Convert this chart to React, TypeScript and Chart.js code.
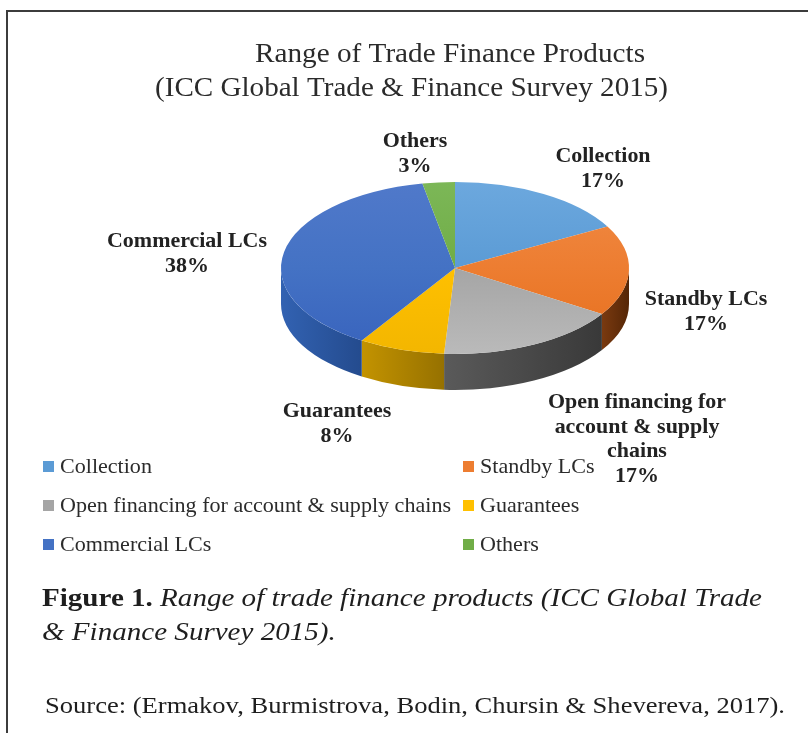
import React, { useEffect, useRef } from "react";
import { Chart, registerables } from "chart.js";

Chart.register(...registerables);

// ---- data ----
const categories = [
  "Collection",
  "Standby LCs",
  "Open financing for account & supply chains",
  "Guarantees",
  "Commercial LCs",
  "Others",
];
const shares = [17, 17, 17, 8, 38, 3];
const dataLabelLines = [
  ["Collection"],
  ["Standby LCs"],
  ["Open financing for", "account & supply", "chains"],
  ["Guarantees"],
  ["Commercial LCs"],
  ["Others"],
];
const titleLines = ["Range of Trade Finance Products", "(ICC Global Trade & Finance Survey 2015)"];
const captionBold = "Figure 1.";
const captionItalic1 = " Range of trade finance products (ICC Global Trade";
const captionItalic2 = "& Finance Survey 2015).";
const sourceText = "Source: (Ermakov, Burmistrova, Bodin, Chursin & Shevereva, 2017).";

// ---- styles / layout ----
const topColors = ["#5b9bd5", "#ed7d31", "#a5a5a5", "#ffc000", "#4472c4", "#70ad47"];
const topLight = ["#6ca8de", "#f08b46", "#a2a2a2", "#ffc91e", "#5079ca", "#7cb757"];
const topDeep = ["#4d8fd0", "#e66f1d", "#bababa", "#f3b600", "#3863bd", "#65a03c"];
const sideLight = ["#4a80b8", "#7a3a10", "#5a5a5a", "#c39300", "#3262b2", "#4d7a30"];
const sideDark = ["#33618f", "#552606", "#393939", "#967100", "#244b8e", "#3d6126"];
const labelAnchors: [number, number][] = [
  [603, 162],
  [706, 305],
  [637, 408],
  [337, 417],
  [187, 247],
  [415, 147],
];
const TILT = 0.494;
const DEPTH = 36;
const SERIF = '"Liberation Serif", "Times New Roman", serif';
const TEXT = "#222222";

function fit(ctx: CanvasRenderingContext2D, text: string, x: number, y: number, sx: number, align: CanvasTextAlign) {
  ctx.save();
  ctx.translate(x, y);
  ctx.scale(sx, 1);
  ctx.textAlign = align;
  ctx.textBaseline = "alphabetic";
  ctx.fillText(text, 0, 0);
  ctx.restore();
}

const pie3d = {
  id: "pie3d",
  beforeDatasetsDraw(chart: any) {
    const ctx: CanvasRenderingContext2D = chart.ctx;
    const meta = chart.getDatasetMeta(0);
    ctx.save();
    meta.data.forEach((arc: any, i: number) => {
      const p = arc.getProps(["startAngle", "endAngle", "x", "y", "outerRadius"], true);
      const a1 = Math.max(p.startAngle, 0);
      const a2 = Math.min(p.endAngle, Math.PI);
      if (a2 <= a1) return;
      const rx = p.outerRadius;
      const ry = p.outerRadius * TILT;
      const x1 = p.x + rx * Math.cos(a2);
      const x2 = p.x + rx * Math.cos(a1);
      const g = ctx.createLinearGradient(Math.min(x1, x2), 0, Math.max(x1, x2), 0);
      g.addColorStop(0, sideLight[i]);
      g.addColorStop(1, sideDark[i]);
      ctx.beginPath();
      ctx.ellipse(p.x, p.y, rx, ry, 0, a1, a2, false);
      ctx.ellipse(p.x, p.y + DEPTH, rx, ry, 0, a2, a1, true);
      ctx.closePath();
      ctx.fillStyle = g;
      ctx.fill();
    });
    ctx.restore();
    const c = meta.data[0];
    ctx.save();
    ctx.translate(c.x, c.y);
    ctx.scale(1, TILT);
    ctx.translate(-c.x, -c.y);
  },
  afterDatasetsDraw(chart: any) {
    chart.ctx.restore();
  },
  afterDraw(chart: any) {
    const ctx: CanvasRenderingContext2D = chart.ctx;
    ctx.save();
    // title
    ctx.fillStyle = "#2b2b2b";
    ctx.font = `27px ${SERIF}`;
    fit(ctx, titleLines[0], 450, 62, 390 / ctx.measureText(titleLines[0]).width, "center");
    ctx.font = `28px ${SERIF}`;
    fit(ctx, titleLines[1], 411.5, 96, 513 / ctx.measureText(titleLines[1]).width, "center");

    // data labels
    ctx.fillStyle = TEXT;
    ctx.font = `bold 21px ${SERIF}`;
    const ls = 160 / ctx.measureText("Commercial LCs").width;
    dataLabelLines.forEach((lines, i) => {
      const [x, y] = labelAnchors[i];
      const all = [...lines, `${shares[i]}%`];
      all.forEach((t, j) => fit(ctx, t, x, y + j * 24.7, ls, "center"));
    });

    // legend
    ctx.font = `21px ${SERIF}`;
    const gs = 391 / ctx.measureText(categories[2]).width;
    categories.forEach((name, i) => {
      const col = i % 2;
      const row = Math.floor(i / 2);
      const mx = col === 0 ? 43 : 463;
      const by = 473 + row * 39;
      ctx.fillStyle = topColors[i];
      ctx.fillRect(mx, by - 12, 11, 11);
      ctx.fillStyle = "#2b2b2b";
      fit(ctx, name, mx + 17, by, gs, "left");
    });

    // caption
    ctx.fillStyle = "#1e1e1e";
    ctx.font = `bold 26px ${SERIF}`;
    const wb = ctx.measureText(captionBold).width;
    ctx.font = `italic 26px ${SERIF}`;
    const wi = ctx.measureText(captionItalic1).width;
    const cs = 720 / (wb + wi);
    ctx.font = `bold 26px ${SERIF}`;
    fit(ctx, captionBold, 42, 606, cs, "left");
    ctx.font = `italic 26px ${SERIF}`;
    fit(ctx, captionItalic1, 42 + wb * cs, 606, cs, "left");
    fit(ctx, captionItalic2, 42, 640, cs, "left");

    // source
    ctx.font = `24px ${SERIF}`;
    fit(ctx, sourceText, 45, 713, 740 / ctx.measureText(sourceText).width, "left");
    ctx.restore();
  },
};

export default function App() {
  const ref = useRef<HTMLCanvasElement | null>(null);
  useEffect(() => {
    if (!ref.current) return;
    const chart = new Chart(ref.current, {
      type: "pie",
      data: {
        labels: categories,
        datasets: [
          {
            data: shares,
            backgroundColor: (c: any) => {
              const i = c.dataIndex ?? 0;
              const area = c.chart.chartArea;
              if (!area) return topColors[i];
              const g = c.chart.ctx.createLinearGradient(0, area.top, 0, area.bottom);
              g.addColorStop(0, topLight[i]);
              g.addColorStop(0.5, topColors[i]);
              g.addColorStop(1, topDeep[i]);
              return g;
            },
            borderWidth: 0,
          },
        ],
      },
      options: {
        responsive: false,
        animation: false,
        events: [],
        layout: { padding: { left: 281, right: 179, top: 94, bottom: 291 } },
        plugins: {
          legend: { display: false },
          tooltip: { enabled: false },
          title: { display: false },
        },
      },
      plugins: [pie3d],
    });
    return () => chart.destroy();
  }, []);

  return (
    <div style={{ position: "absolute", left: 0, top: 0, width: 808, height: 733, overflow: "hidden", background: "#fff" }}>
      <div
        style={{
          position: "absolute",
          left: 6,
          top: 10,
          width: 860,
          height: 780,
          border: "2px solid #3c3c3c",
          boxSizing: "border-box",
        }}
      />
      <canvas ref={ref} width={808} height={733} style={{ position: "absolute", left: 0, top: 0, width: 808, height: 733 }} />
    </div>
  );
}
